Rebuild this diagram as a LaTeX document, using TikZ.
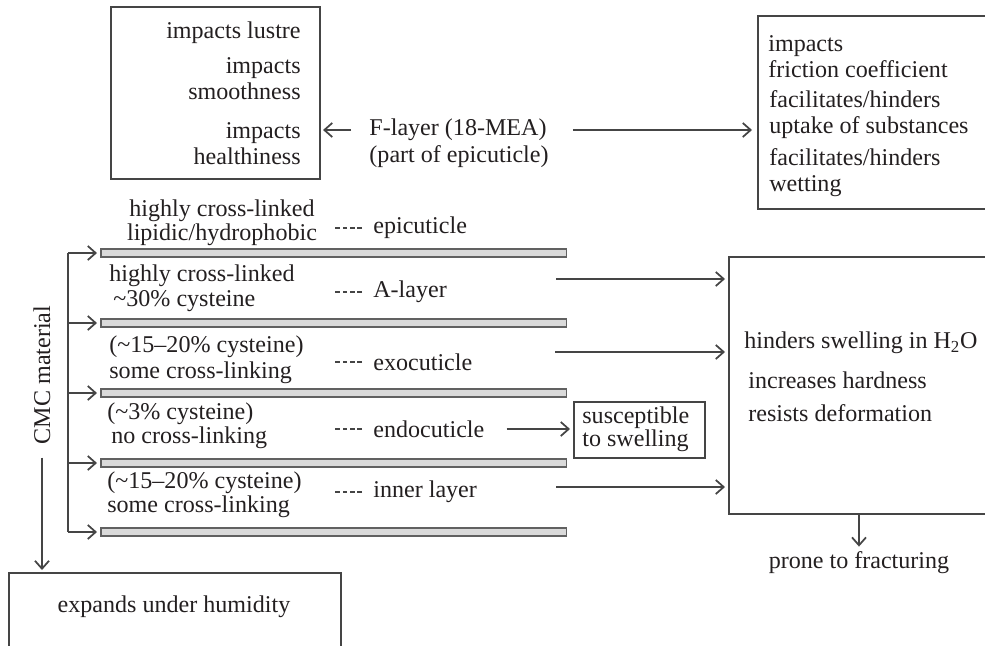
\documentclass[tikz,border=0pt]{standalone}
\usepackage{fontspec}
\setmainfont{Liberation Serif}
\usetikzlibrary{positioning,arrows.meta}

\definecolor{ln}{HTML}{454545}
\definecolor{txt}{HTML}{231F20}
\definecolor{barfill}{HTML}{DADADA}

\tikzset{
  >={Straight Barb[length=4.5pt, width=8pt]},
  box/.style={draw=ln, line width=1.2pt, inner sep=0pt},
  lbl/.style={inner sep=0pt, text=txt, font=\fontsize{13.7}{14.8}\selectfont},
  arr/.style={draw=ln, line width=1pt, ->},
  layerbar/.style={draw=ln!85, fill=barfill, line width=.9pt, inner sep=0pt,
    minimum width=9.32cm, minimum height=.15cm, anchor=west},
  layerdash/.style={draw=ln, line width=.8pt, dash pattern=on 2.6pt off 1.6pt}
}

\begin{document}
\begin{tikzpicture}[x=.02cm, y=-.02cm]
\useasboundingbox (0,0) rectangle (985,646);
\clip (0,0) rectangle (985,646);

% F-layer and its two boxes
\node[lbl] (flayer) at (458,130) {F-layer (18-MEA)};
\node[lbl] (flayerpart) at (459,157) {(part of epicuticle)};

\node[box, minimum width=4.18cm, minimum height=3.44cm] (lustrebox) at (215.5,93) {};
\node[lbl, anchor=east] (lustre) at (301,33) {impacts lustre};
\node[lbl, anchor=east, align=right] (smooth) at (301,79) {impacts\\smoothness};
\node[lbl, anchor=east, align=right] (health) at (301,143.5) {impacts\\healthiness};

\node[box, anchor=north west, minimum width=6cm, minimum height=3.86cm] (fricbox) at (757,15) {};
\node[lbl, anchor=west, align=left] (fric) at (768,57) {impacts\\friction coefficient};
\node[lbl, anchor=west, align=left] (uptake) at (769,114.5) {facilitates/hinders\\uptake of substances};
\node[lbl, anchor=west, align=left] (wet) at (769,172.5) {facilitates/hinders\\wetting};

\draw[arr, shorten <=.36cm, shorten >=.04cm] (flayer.west) -- (lustrebox.east |- flayer);
\draw[arr, shorten <=.52cm, shorten >=.1cm] (flayer.east) -- (fricbox.west |- flayer);

% layers
\coordinate (spine) at (68,253);
\foreach \y [count=\i] in {253,323,393,463,532} {
  \node[layerbar] (bar\i) at (100,\y) {};
  \draw[arr, shorten >=.06cm] (spine |- bar\i) -- (bar\i.west);
}
\draw[draw=ln, line width=1pt] (spine) -- (spine |- bar5);

\node[lbl, rotate=90] (cmc) at (42,375) {CMC material};

\node[lbl, align=center] (epidesc) at (222,222.5) {highly cross-linked\\[-1pt]lipidic/hydrophobic};
\node[lbl, anchor=west, align=left] (adesc) at (109,288) {highly cross-linked\\[-.5pt]\,\textasciitilde30\% cysteine};
\node[lbl, anchor=west, align=left] (exodesc) at (109,360) {(\textasciitilde15--20\% cysteine)\\some cross-linking};
\node[lbl, anchor=west, align=left] (endodesc) at (107,426) {(\textasciitilde3\% cysteine)\\[-1pt]\,no cross-linking};
\node[lbl, anchor=west, align=left] (innerdesc) at (107,495) {(\textasciitilde15--20\% cysteine)\\[-1pt]some cross-linking};

\node[lbl, anchor=west] (epi) at (373,228) {epicuticle};
\node[lbl, anchor=west] (alayer) at (373,292) {A-layer};
\node[lbl, anchor=west] (exo) at (373,362) {exocuticle};
\node[lbl, anchor=west] (endo) at (373,429) {endocuticle};
\node[lbl, anchor=west] (inner) at (373,492) {inner layer};

\foreach \n in {epi,alayer,exo,endo,inner}
  \draw[layerdash] ([xshift=-.22cm]\n.west) -- ++(-29,0);

% swelling
\node[box, anchor=north west, minimum width=2.62cm, minimum height=1.12cm] (swell) at (573,401) {};
\node[lbl, anchor=west, align=left] (swelltxt) at (582,429) {susceptible\\[-1.5pt]to swelling};
\draw[arr, shorten <=.44cm, shorten >=.06cm] (endo.east) -- (swell.west |- endo.east);

\node[box, anchor=north west, minimum width=6cm, minimum height=5.14cm] (hard) at (728,256) {};
\node[lbl, anchor=west] (hinder) at (744,343) {hinders swelling in H\textsubscript{2}O};
\node[lbl, anchor=west] (harder) at (748,380) {increases hardness};
\node[lbl, anchor=west] (resist) at (748,413) {resists deformation};

\coordinate (aout) at (556,279);
\coordinate (exoout) at (555,352);
\coordinate (innerout) at (556,487);
\foreach \c in {aout,exoout,innerout}
  \draw[arr, shorten >=.06cm] (\c) -- (hard.west |- \c);

\node[lbl] (fract) at (859,563) {prone to fracturing};
\draw[arr, shorten >=.1cm] (hard.south -| fract) -- (fract.north);

% humidity
\node[box, anchor=north west, minimum width=6.64cm, minimum height=3cm] (humid) at (8,572) {};
\node[lbl] (humidtxt) at (174,607) {expands under humidity};
\draw[arr, shorten <=.26cm, shorten >=.04cm] (cmc.west) -- (cmc.west |- humid.north);
\end{tikzpicture}
\end{document}
